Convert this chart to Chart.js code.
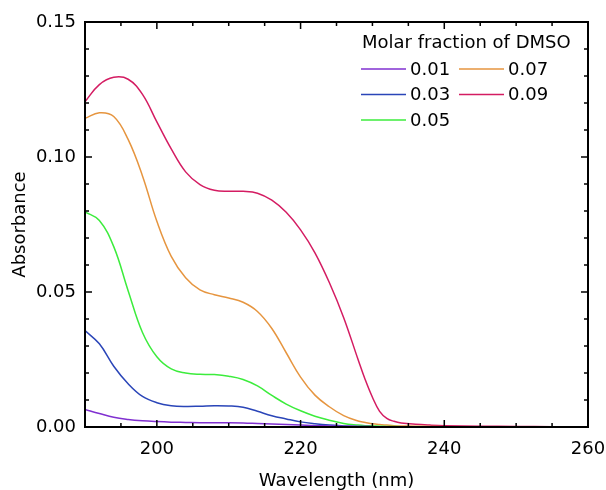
<!DOCTYPE html>
<html>
<head>
<meta charset="utf-8">
<title>Absorbance vs wavelength</title>
<script src="https://cdn.jsdelivr.net/npm/chart.js@4.4.1/dist/chart.umd.min.js"></script>
<style>
    html, body { margin: 0; padding: 0; background: #fff; }
</style>
</head>
<body>
<canvas id="absChart" width="606" height="490"></canvas>
<script>
// Wavelength grid (nm) shared by all series
const wavelengths = [190, 192, 194, 196, 198, 200, 202, 204, 206, 208, 210, 212, 214, 216, 218, 220,
    222, 224, 226, 228, 229, 230, 231, 232, 233, 234, 236, 238, 240, 245, 250, 255, 260];

// Absorbance, one array per DMSO molar fraction
const abs001 = [0.0065, 0.0050, 0.0036, 0.0028, 0.0023, 0.0020, 0.0018, 0.0017, 0.0016, 0.0016, 0.0016, 0.0015, 0.0013, 0.0011, 0.0009, 0.0007,
    0.0005, 0.0004, 0.0003, 0.0002, 0.0002, 0.0001, 0.0001, 0.0001, 0.0001, 0.0001, 0.0001, 0.0000, 0.0000, 0.0000, 0.0000, 0.0000, 0.0000];
const abs003 = [0.0357, 0.0308, 0.0225, 0.0160, 0.0113, 0.0090, 0.0079, 0.0076, 0.0077, 0.0079, 0.0078, 0.0073, 0.0058, 0.0042, 0.0030, 0.0019,
    0.0012, 0.0007, 0.0004, 0.0002, 0.0002, 0.0001, 0.0001, 0.0001, 0.0001, 0.0001, 0.0000, 0.0000, 0.0000, 0.0000, 0.0000, 0.0000, 0.0000];
const abs005 = [0.0797, 0.0765, 0.0668, 0.0505, 0.0350, 0.0260, 0.0215, 0.0200, 0.0195, 0.0194, 0.0188, 0.0176, 0.0152, 0.0117, 0.0085, 0.0060,
    0.0040, 0.0025, 0.0013, 0.0007, 0.0005, 0.0004, 0.0003, 0.0002, 0.0002, 0.0001, 0.0001, 0.0000, 0.0000, 0.0000, 0.0000, 0.0000, 0.0000];
const abs007 = [0.1143, 0.1164, 0.1150, 0.1065, 0.0930, 0.0762, 0.0632, 0.0553, 0.0508, 0.0490, 0.0478, 0.0462, 0.0428, 0.0365, 0.0275, 0.0185,
    0.0118, 0.0075, 0.0042, 0.0022, 0.0017, 0.0012, 0.0009, 0.0007, 0.0005, 0.0004, 0.0003, 0.0002, 0.0001, 0.0001, 0.0000, 0.0000, 0.0000];
const abs009 = [0.1205, 0.1268, 0.1295, 0.1288, 0.1232, 0.1130, 0.1030, 0.0945, 0.0898, 0.0877, 0.0873, 0.0873, 0.0866, 0.0840, 0.0795, 0.0730,
    0.0645, 0.0535, 0.0405, 0.0250, 0.0175, 0.0110, 0.0058, 0.0032, 0.0021, 0.0015, 0.0010, 0.0007, 0.0005, 0.0003, 0.0002, 0.0001, 0.0001];

const seriesLabels = ['0.01', '0.03', '0.05', '0.07', '0.09'];
const seriesValues = [abs001, abs003, abs005, abs007, abs009];
const seriesColors = ['#8030d0', '#2a45b8', '#3cec3c', '#e6953f', '#d41c62'];

// Axis ticks
const xTickValues = [200, 220, 240, 260];
const yTickValues = [0, 0.05, 0.10, 0.15];
const yTickLabels = ['0.00', '0.05', '0.10', '0.15'];

const legendTitle = 'Molar fraction of DMSO';
const FONT = '"DejaVu Sans", Arial, sans-serif';

/**
 * Box frame with inward major/minor ticks on all four sides
 */
const frameTicks = {
    id: 'frameTicks',
    afterDatasetsDraw(chart) {
        const { ctx, chartArea: a, scales: { x, y } } = chart;
        ctx.save();
        ctx.strokeStyle = '#000';
        ctx.lineWidth = 1.5;
        ctx.beginPath();
        // x: minor every 5 nm, major on labelled ticks
        for (let v = 190; v <= 260; v += 5) {
            const px = x.getPixelForValue(v);
            const len = xTickValues.includes(v) ? 7 : 4;
            ctx.moveTo(px, a.bottom); ctx.lineTo(px, a.bottom - len);
            ctx.moveTo(px, a.top); ctx.lineTo(px, a.top + len);
        }
        // y: minor every 0.01, major every 0.05
        for (let i = 0; i <= 15; i++) {
            const py = y.getPixelForValue(i / 100);
            const len = i % 5 === 0 ? 7 : 4;
            ctx.moveTo(a.left, py); ctx.lineTo(a.left + len, py);
            ctx.moveTo(a.right, py); ctx.lineTo(a.right - len, py);
        }
        ctx.stroke();
        ctx.lineWidth = 2;
        ctx.strokeRect(a.left, a.top, a.right - a.left, a.bottom - a.top);
        ctx.restore();
    }
};

/**
 * Two-column legend with title, inside the top right of the plot
 */
const legendBox = {
    id: 'legendBox',
    afterDraw(chart) {
        const { ctx, chartArea: a } = chart;
        const x0 = a.right - 227;
        ctx.save();
        ctx.font = '18px ' + FONT;
        ctx.fillStyle = '#000';
        ctx.textAlign = 'left';
        ctx.textBaseline = 'middle';
        ctx.fillText(legendTitle, x0 + 1, a.top + 21);
        chart.data.datasets.forEach((ds, i) => {
            const col = Math.floor(i / 3);
            const row = i % 3;
            const lx = x0 + col * 98;
            const ly = a.top + 47 + row * 25.5;
            ctx.strokeStyle = ds.borderColor;
            ctx.lineWidth = 1.5;
            ctx.beginPath();
            ctx.moveTo(lx, ly);
            ctx.lineTo(lx + 45, ly);
            ctx.stroke();
            ctx.fillText(ds.label, lx + 49, ly + 1);
        });
        ctx.restore();
    }
};

const datasets = seriesLabels.map((label, i) => ({
    label: label,
    data: wavelengths.map((w, j) => ({ x: w, y: seriesValues[i][j] })),
    borderColor: seriesColors[i],
    backgroundColor: seriesColors[i],
    borderWidth: 1.5,
    pointRadius: 0,
    tension: 0.4,
    fill: false
}));

new Chart(document.getElementById('absChart'), {
    type: 'line',
    data: { datasets },
    options: {
        responsive: false,
        animation: false,
        devicePixelRatio: 1,
        layout: { padding: { top: 22, right: 18, left: 0, bottom: 0 } },
        plugins: {
            legend: { display: false },
            tooltip: { enabled: false }
        },
        scales: {
            x: {
                type: 'linear',
                min: 190,
                max: 260,
                afterBuildTicks: s => { s.ticks = xTickValues.map(v => ({ value: v })); },
                afterFit: s => {
                    s.height = 63;
                    // let the "260" label hang into the right padding
                    s.paddingLeft = 0;
                    s.paddingRight = 0;
                },
                grid: { display: false, drawTicks: false },
                border: { display: false },
                ticks: {
                    color: '#000',
                    font: { family: FONT, size: 18 },
                    padding: 12,
                    maxRotation: 0,
                    autoSkip: false
                },
                title: {
                    display: true,
                    text: 'Wavelength (nm)',
                    color: '#000',
                    font: { family: FONT, size: 18, lineHeight: 1 },
                    padding: { top: 0, bottom: 0 }
                }
            },
            y: {
                min: 0,
                max: 0.15,
                afterBuildTicks: s => { s.ticks = yTickValues.map(v => ({ value: v })); },
                afterFit: s => { s.width = 85; },
                grid: { display: false, drawTicks: false },
                border: { display: false },
                ticks: {
                    color: '#000',
                    font: { family: FONT, size: 18 },
                    padding: 9,
                    callback: (v, i) => yTickLabels[i]
                },
                title: {
                    display: true,
                    text: 'Absorbance',
                    color: '#000',
                    font: { family: FONT, size: 18, lineHeight: 1 },
                    padding: { top: 11, bottom: 0 }
                }
            }
        }
    },
    plugins: [frameTicks, legendBox]
});
</script>
</body>
</html>
